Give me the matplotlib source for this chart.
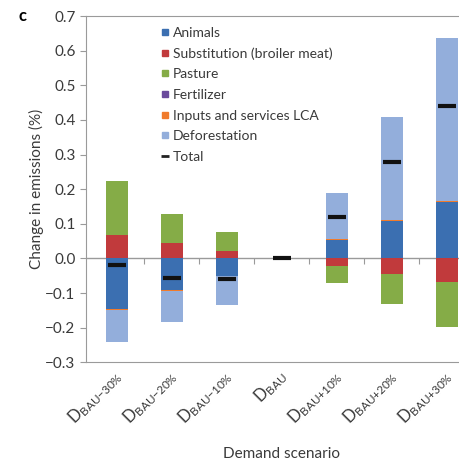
import matplotlib
matplotlib.use("Agg")
import matplotlib.pyplot as plt
import matplotlib.transforms as mtransforms
from matplotlib.lines import Line2D
import numpy as np

plt.rcParams["font.family"] = ["Lato", "DejaVu Sans"]
plt.rcParams["mathtext.fontset"] = "custom"
plt.rcParams["mathtext.rm"] = "Lato"
plt.rcParams["mathtext.it"] = "Lato"

scenarios = ["BAU{\u2212}30\\%", "BAU{\u2212}20\\%", "BAU{\u2212}10\\%", "BAU",
             "BAU{+}10\\%", "BAU{+}20\\%", "BAU{+}30\\%"]
animals = [-0.146, -0.091, -0.050, 0.0, 0.053, 0.107, 0.162]
substitution = [0.068, 0.044, 0.022, 0.0, -0.022, -0.045, -0.069]
pasture = [0.156, 0.084, 0.053, 0.0, -0.048, -0.087, -0.128]
fertilizer = [0.0, 0.0, 0.0, 0.0, 0.0, 0.0, 0.0]
inputs_lca = [-0.003, -0.003, -0.002, 0.0, 0.003, 0.003, 0.003]
deforestation = [-0.093, -0.090, -0.082, 0.0, 0.134, 0.300, 0.471]
total = [-0.019, -0.057, -0.059, 0.0, 0.121, 0.280, 0.441]

series = [
    ("Animals", animals, "#3b6fb1"),
    ("Substitution (broiler meat)", substitution, "#c13a3c"),
    ("Pasture", pasture, "#85ac47"),
    ("Fertilizer", fertilizer, "#6a4a9c"),
    ("Inputs and services LCA", inputs_lca, "#f07b2c"),
    ("Deforestation", deforestation, "#93aedb"),
]

grey = "#9a9a9a"
txt = "#3a3a3a"
fig = plt.figure(figsize=(4.59, 4.62), dpi=100)
ax = fig.add_axes([0.187, 0.216, 0.813, 0.749])

x = np.arange(len(scenarios))
pos = np.zeros(len(x))
neg = np.zeros(len(x))
handles = []
for name, vals, col in series:
    v = np.asarray(vals)
    bottom = np.where(v >= 0, pos, neg)
    ax.bar(x, v, 0.4, bottom=bottom, color=col, linewidth=0)
    pos += np.where(v >= 0, v, 0)
    neg += np.where(v < 0, v, 0)
    handles.append(Line2D([], [], ls="none", marker="s", ms=5, color=col, label=name))
ax.plot(x, total, ls="none", marker="_", ms=13, mew=3, color="#111111")
handles.append(Line2D([], [], ls="none", marker="_", ms=6, mew=2, color="#222222",
                      label="Total"))

ax.set_xlim(-0.56, 6.22)
ax.set_ylim(-0.3, 0.7)
ax.set_yticks(np.arange(-0.3, 0.71, 0.1))
ax.set_yticklabels([f"{t:.1f}".replace("-", "\u2212") for t in np.arange(-0.3, 0.71, 0.1)])
ax.set_xticks(x)
ax.set_xticklabels([f"$D_{{\\mathrm{{{s}}}}}$" for s in scenarios], rotation=45,
                   ha="right", rotation_mode="anchor", fontsize=12, color=txt)
ax.tick_params(axis="x", length=0, pad=3)
ax.tick_params(axis="y", length=4, color=grey, labelsize=11, labelcolor=txt)
# nudge the rotated labels a little left so the last one stays inside the figure
shift = mtransforms.ScaledTranslation(-5 / 100, 0, fig.dpi_scale_trans)
for lab in ax.get_xticklabels():
    lab.set_transform(lab.get_transform() + shift)

for side in ["left", "bottom", "top"]:
    ax.spines[side].set_color(grey)
ax.spines["right"].set_visible(False)

ax.axhline(0, color=grey, lw=1, zorder=0.5)
sec = ax.secondary_xaxis(0.3)
sec.set_xticks(x[:-1] + 0.5)
sec.tick_params(length=4, color=grey, labelbottom=False, direction="out")
sec.spines["bottom"].set_visible(False)

ax.set_ylabel("Change in emissions (%)", fontsize=11, color=txt)
ax.yaxis.set_label_coords(-0.112, 0.5)
ax.set_xlabel("Demand scenario", fontsize=11, color=txt)
ax.xaxis.set_label_coords(0.525, -0.245)

leg = ax.legend(handles=handles, loc="upper left", bbox_to_anchor=(0.175, 1.0),
                frameon=False, fontsize=10, handlelength=0.5, handletextpad=0.3,
                labelspacing=0.62, borderaxespad=0.35)
for t in leg.get_texts():
    t.set_color(txt)

fig.text(0.04, 0.966, "c", fontsize=12, fontweight="bold", va="center")

fig.savefig("out.png", dpi=100)
